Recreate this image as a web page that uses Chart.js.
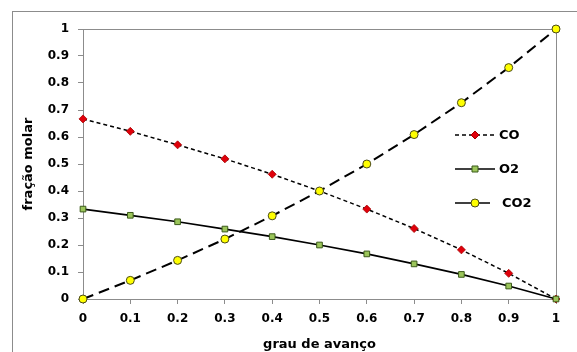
<!DOCTYPE html>
<html>
<head>
<meta charset="utf-8">
<script src="https://cdn.jsdelivr.net/npm/chart.js@4"></script>
<style>
  html, body { margin: 0; padding: 0; background: #fff; }
  #wrap { width: 577px; height: 352px; }
</style>
</head>
<body>
<div id="wrap"><canvas id="chart" width="577" height="352"></canvas></div>
<script>
// grau de avanco (x) and molar fractions
var grau = [0, 0.1, 0.2, 0.3, 0.4, 0.5, 0.6, 0.7, 0.8, 0.9, 1];
var fracCO = [0.667, 0.621, 0.571, 0.519, 0.462, 0.4, 0.333, 0.261, 0.182, 0.095, 0];
var fracO2 = [0.333, 0.31, 0.286, 0.259, 0.231, 0.2, 0.167, 0.13, 0.091, 0.048, 0];
var fracCO2 = [0, 0.069, 0.143, 0.222, 0.308, 0.4, 0.5, 0.609, 0.727, 0.857, 1];
var seriesNames = ["CO", "O2", "CO2"];

var FONT = "DejaVu Sans";
var AXIS = "#8c8c8c";

function pts(ys) {
    return grau.map(function (x, i) { return { x: x, y: ys[i] }; });
}

function fmt(v) {
    return String(Math.round(v * 10) / 10);
}

// frame around the chart + box around plot area + legend inside
var decor = {
    id: "decor",
    beforeDraw: function (chart) {
        var c = chart.ctx;
        c.save();
        c.fillStyle = "#fff";
        c.fillRect(0, 0, chart.width, chart.height);
        c.strokeStyle = "#8c8c8c";
        c.lineWidth = 1;
        c.strokeRect(12.5, 11.5, 600, 400);
        c.restore();
    },
    beforeDatasetsDraw: function (chart) {
        var c = chart.ctx;
        var a = chart.chartArea;
        c.save();
        c.strokeStyle = AXIS;
        c.lineWidth = 1;
        c.beginPath();
        c.moveTo(a.left, a.top + 0.5);
        c.lineTo(a.right + 0.5, a.top + 0.5);
        c.lineTo(a.right + 0.5, a.bottom);
        c.stroke();
        c.restore();
    },
    afterDraw: function (chart) {
        var c = chart.ctx;
        c.save();
        // legend
        var rows = [135, 169, 203];
        chart.data.datasets.forEach(function (ds, i) {
            var y = rows[i];
            c.strokeStyle = ds.borderColor;
            c.lineWidth = 1.6;
            c.setLineDash(i === 0 ? ds.borderDash : []);
            c.beginPath();
            c.moveTo(455, y);
            c.lineTo(i === 2 ? 490 : 495, y);
            c.stroke();
            c.setLineDash([]);
            var cx = 475;
            c.fillStyle = ds.pointBackgroundColor;
            c.strokeStyle = ds.pointBorderColor;
            c.lineWidth = 1;
            c.beginPath();
            if (ds.pointStyle === "rectRot") {
                var r = 4;
                c.moveTo(cx, y - r); c.lineTo(cx + r, y); c.lineTo(cx, y + r); c.lineTo(cx - r, y); c.closePath();
            } else if (ds.pointStyle === "rect") {
                c.rect(cx - 3, y - 3, 6, 6);
            } else {
                c.arc(cx, y, 4, 0, Math.PI * 2);
            }
            c.fill();
            c.stroke();
            c.fillStyle = "#000";
            c.font = "bold 13px '" + FONT + "'";
            c.textBaseline = "middle";
            c.textAlign = "left";
            c.fillText(ds.label, i === 2 ? 502 : 499, y + 1);
        });
        c.restore();
    }
};

var ctx = document.getElementById("chart");

var chart = new Chart(ctx, {
    type: "line",
    data: {
        datasets: [
            {
                label: seriesNames[0],
                data: pts(fracCO),
                borderColor: "#000",
                borderWidth: 1.5,
                borderDash: [4, 3],
                pointStyle: "rectRot",
                pointRadius: 4,
                pointBackgroundColor: "#e0000b",
                pointBorderColor: "#a50000",
                pointBorderWidth: 0.8,
                clip: false,
                order: 2
            },
            {
                label: seriesNames[1],
                data: pts(fracO2),
                borderColor: "#000",
                borderWidth: 1.7,
                pointStyle: "rect",
                pointRadius: 4,
                pointBackgroundColor: "#9bc55a",
                pointBorderColor: "#3b5a1a",
                pointBorderWidth: 1,
                clip: false,
                order: 1
            },
            {
                label: seriesNames[2],
                data: pts(fracCO2),
                borderColor: "#000",
                borderWidth: 2,
                borderDash: [11, 6],
                pointStyle: "circle",
                pointRadius: 4,
                pointBackgroundColor: "#ffff00",
                pointBorderColor: "#4a4a1a",
                pointBorderWidth: 1,
                clip: false,
                order: 0
            }
        ]
    },
    options: {
        responsive: false,
        animation: false,
        layout: { padding: { left: 21, top: 29, right: 21, bottom: 0 } },
        plugins: {
            legend: { display: false },
            tooltip: { enabled: false }
        },
        scales: {
            x: {
                type: "linear",
                min: 0,
                max: 1,
                afterFit: function (s) { s.height = 53; },
                border: { display: true, color: AXIS, width: 1 },
                grid: { drawOnChartArea: false, drawTicks: true, tickLength: 5, color: AXIS },
                ticks: {
                    stepSize: 0.1,
                    padding: 8,
                    color: "#000",
                    font: { family: FONT, size: 12, weight: "bold" },
                    callback: function (v) { return fmt(v); }
                },
                title: {
                    display: true,
                    text: "grau de avanço",
                    color: "#000",
                    padding: { top: 2, bottom: 0 },
                    font: { family: FONT, size: 13, weight: "bold" }
                }
            },
            y: {
                type: "linear",
                min: 0,
                max: 1,
                afterFit: function (s) { s.width = 62; },
                border: { display: true, color: AXIS, width: 1 },
                grid: { drawOnChartArea: false, drawTicks: true, tickLength: 5, color: AXIS },
                ticks: {
                    stepSize: 0.1,
                    padding: 9,
                    color: "#000",
                    font: { family: FONT, size: 12, weight: "bold" },
                    callback: function (v) { return fmt(v); }
                },
                title: {
                    display: true,
                    text: "fração molar",
                    color: "#000",
                    padding: { top: 0, bottom: 0 },
                    font: { family: FONT, size: 13, weight: "bold" }
                }
            }
        }
    },
    plugins: [decor]
});
</script>
</body>
</html>
